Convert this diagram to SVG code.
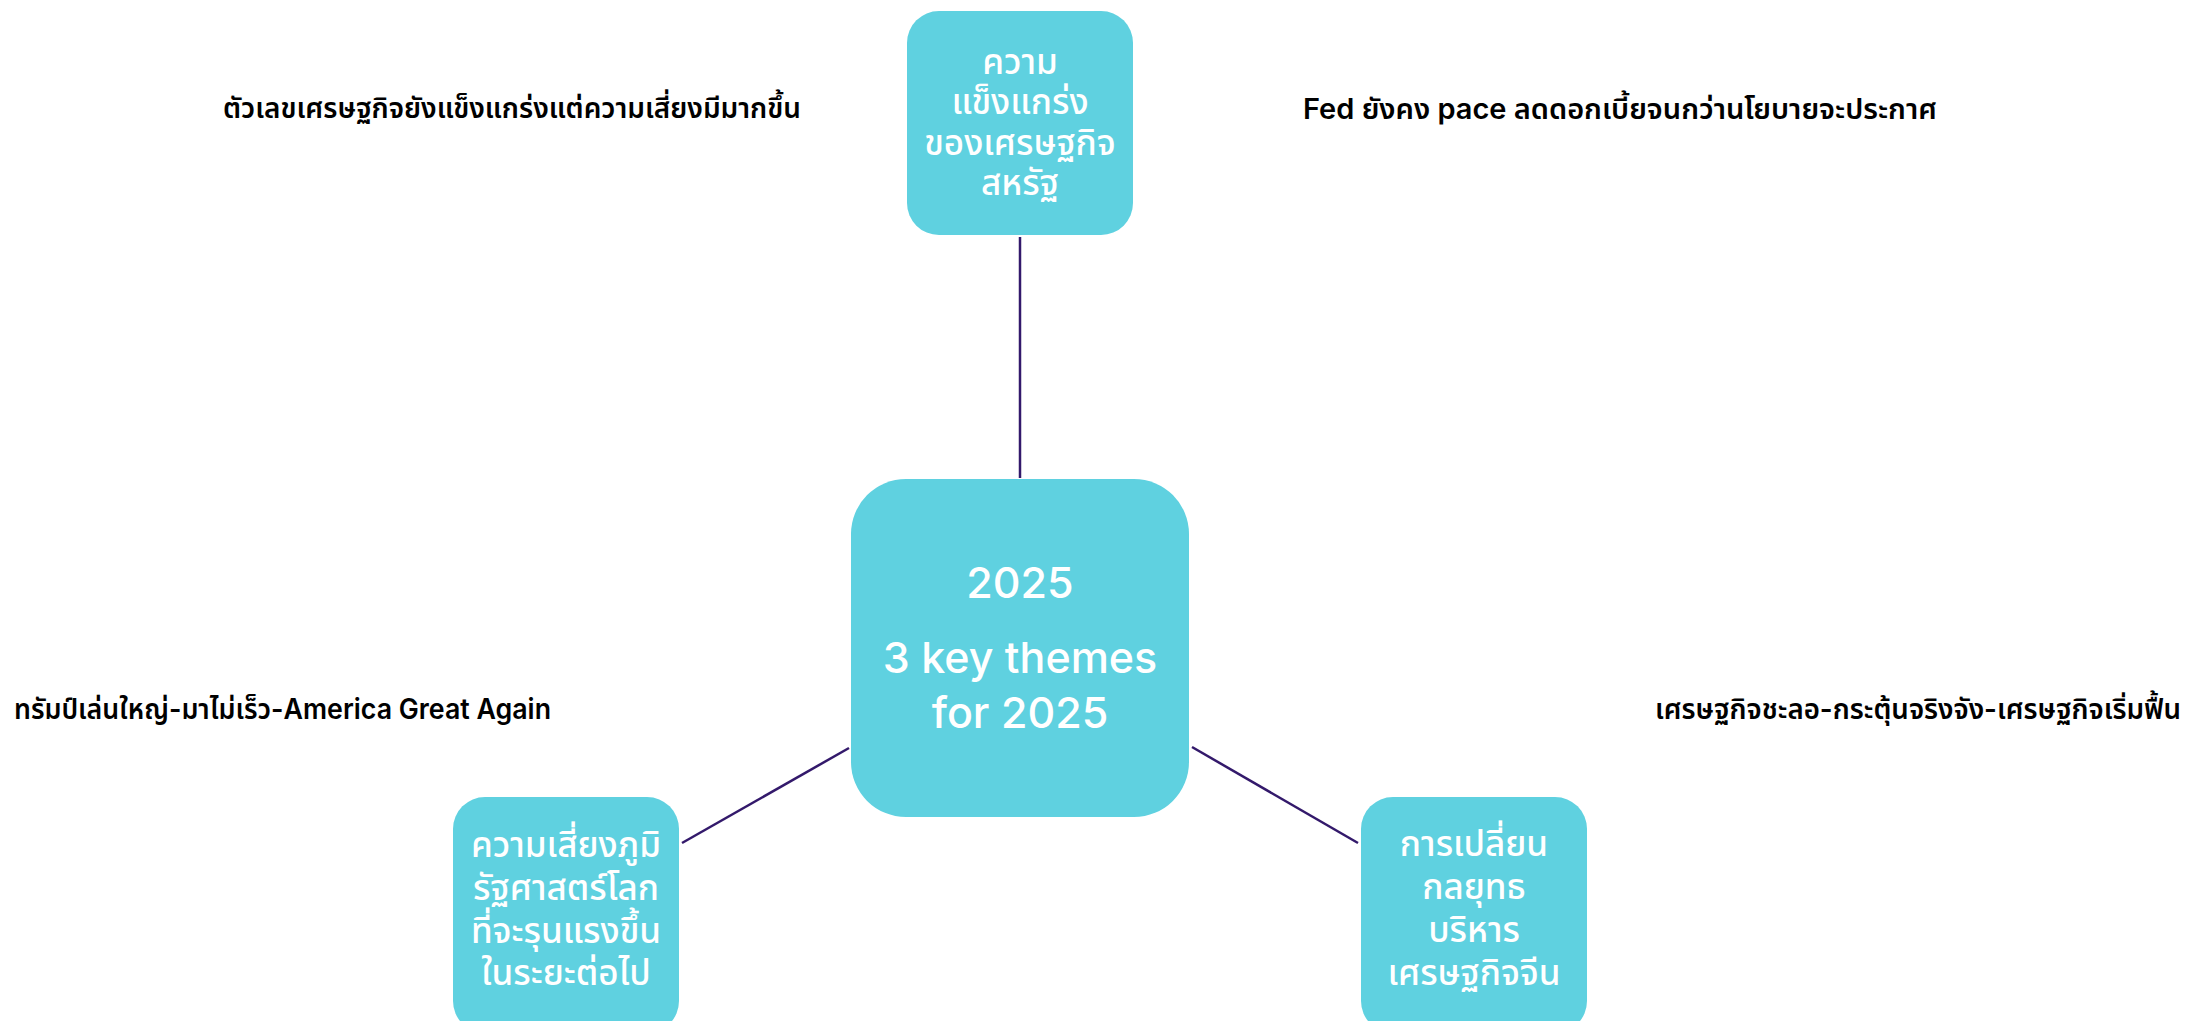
<svg xmlns="http://www.w3.org/2000/svg" width="2190" height="1021" viewBox="0 0 2190 1021">
<style>
.node{fill:#5fd1e0}
.nt{fill:#ffffff;font-family:"Inter","Noto Sans Thai","Noto Sans","DejaVu Sans",sans-serif;font-size:35px;text-anchor:middle;font-weight:500}
.ct{fill:#ffffff;font-family:"Inter","Noto Sans",sans-serif;font-size:43px;text-anchor:middle;font-weight:500}
.lbl{fill:#000000;font-family:"Inter","Noto Sans Thai","Noto Sans","DejaVu Sans",sans-serif;font-size:28px;font-weight:600}
.edge{stroke:#33196b;stroke-width:2.5;fill:none}
</style>
<rect width="2190" height="1021" fill="#ffffff"/>
<g id="connectors">
<line class="edge" x1="1020" y1="237" x2="1020" y2="478"/>
<line class="edge" x1="682" y1="843" x2="849" y2="748"/>
<line class="edge" x1="1192" y1="747" x2="1358" y2="843"/>
</g>
<g id="node-center">
<rect class="node" x="851" y="479" width="338" height="338" rx="55"/>
<text class="ct" x="1020" y="598">2025</text>
<text class="ct" x="1020" y="673">3 key themes</text>
<text class="ct" x="1020" y="728">for 2025</text>
</g>
<g id="node-us">
<rect class="node" x="907" y="11" width="226" height="224" rx="32"/>
<text class="nt" x="1020" y="74">ความ</text>
<text class="nt" x="1020" y="114">แข็งแกร่ง</text>
<text class="nt" x="1020" y="155">ของเศรษฐกิจ</text>
<text class="nt" x="1020" y="195">สหรัฐ</text>
</g>
<g id="node-geo">
<rect class="node" x="453" y="797" width="226" height="236" rx="32"/>
<text class="nt" x="566" y="857">ความเสี่ยงภูมิ</text>
<text class="nt" x="566" y="900">รัฐศาสตร์โลก</text>
<text class="nt" x="566" y="943">ที่จะรุนแรงขึ้น</text>
<text class="nt" x="566" y="985">ในระยะต่อไป</text>
</g>
<g id="node-china">
<rect class="node" x="1361" y="797" width="226" height="236" rx="32"/>
<text class="nt" x="1474" y="856">การเปลี่ยน</text>
<text class="nt" x="1474" y="899">กลยุทธ</text>
<text class="nt" x="1474" y="942">บริหาร</text>
<text class="nt" x="1474" y="985">เศรษฐกิจจีน</text>
</g>
<g id="labels">
<text class="lbl" x="223" y="118" textLength="578" lengthAdjust="spacingAndGlyphs">ตัวเลขเศรษฐกิจยังแข็งแกร่งแต่ความเสี่ยงมีมากขึ้น</text>
<text class="lbl" x="1303" y="119" textLength="634" lengthAdjust="spacingAndGlyphs">Fed ยังคง pace ลดดอกเบี้ยจนกว่านโยบายจะประกาศ</text>
<text class="lbl" x="14" y="719" textLength="537" lengthAdjust="spacingAndGlyphs">ทรัมป์เล่นใหญ่-มาไม่เร็ว-America Great Again</text>
<text class="lbl" x="1655" y="719" textLength="526" lengthAdjust="spacingAndGlyphs">เศรษฐกิจชะลอ-กระตุ้นจริงจัง-เศรษฐกิจเริ่มฟื้น</text>
</g>
</svg>
